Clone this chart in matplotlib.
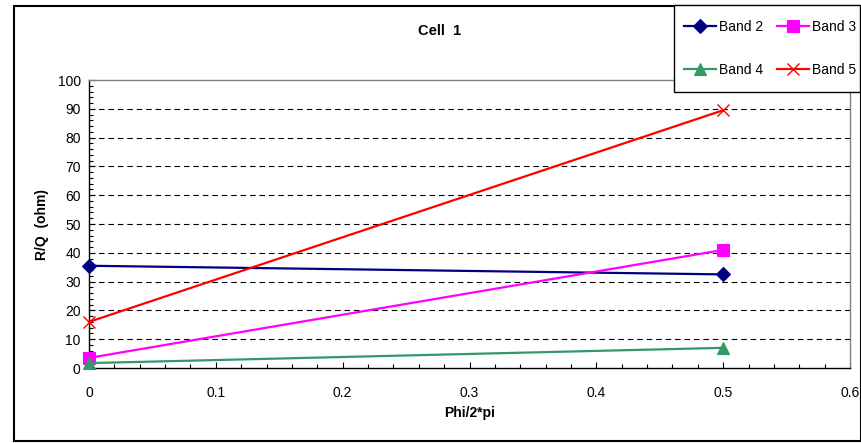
import matplotlib
matplotlib.use("Agg")
import matplotlib.pyplot as plt
from matplotlib.patches import Rectangle
from matplotlib.ticker import MultipleLocator, FuncFormatter

# Phase advance (Phi/2*pi) and R/Q values per band
phase = [0.0, 0.5]
band2 = [35.5, 32.5]
band3 = [3.5, 41.0]
band4 = [1.7, 7.0]
band5 = [16.0, 89.5]

series = [
    ("Band 2", band2, "#000080", "D", 7, "#000080"),
    ("Band 3", band3, "#FF00FF", "s", 8, "#FF00FF"),
    ("Band 4", band4, "#339966", "^", 8.5, "#339966"),
    ("Band 5", band5, "#FF0000", "x", 9, "#FF0000"),
]

plt.rcParams["font.family"] = ["Liberation Sans", "DejaVu Sans"]

fig = plt.figure(figsize=(8.62, 4.43), dpi=100)
W, H = 862, 443
ax = fig.add_axes([89 / W, 1 - 368 / H, (850 - 89) / W, (368 - 80) / H])

handles = {}
for name, vals, color, marker, ms, mcol in series:
    h, = ax.plot(phase, vals, color=color, lw=1.6, marker=marker, ms=ms,
                 markerfacecolor=mcol, markeredgecolor=mcol,
                 markeredgewidth=1.0 if marker == "x" else 0.8,
                 label=name, clip_on=False, zorder=3)
    handles[name] = h

ax.set_xlim(0, 0.6)
ax.set_ylim(0, 100)
ax.xaxis.set_major_locator(MultipleLocator(0.1))
ax.xaxis.set_minor_locator(MultipleLocator(0.02))
ax.yaxis.set_major_locator(MultipleLocator(10))
ax.yaxis.set_minor_locator(MultipleLocator(2))
ax.xaxis.set_major_formatter(FuncFormatter(lambda v, p: "0" if abs(v) < 1e-9 else f"{v:.1f}"))

ax.tick_params(axis="both", which="major", direction="in", length=4, width=0.8,
               labelsize=10, colors="black")
ax.tick_params(axis="both", which="minor", direction="in", length=3, width=0.8)
ax.tick_params(axis="x", pad=13)
ax.tick_params(axis="y", pad=6)

for y in range(10, 100, 10):
    ax.axhline(y, color="black", lw=0.8, dashes=(5, 3.5), zorder=1)

for side in ["top", "right"]:
    ax.spines[side].set_color("#808080")
    ax.spines[side].set_linewidth(1.0)
for side in ["left", "bottom"]:
    ax.spines[side].set_color("black")
    ax.spines[side].set_linewidth(1.0)

ax.set_xlabel("Phi/2*pi", fontsize=10, fontweight="bold", labelpad=4)
ax.set_ylabel("R/Q  (ohm)", fontsize=10, fontweight="bold", labelpad=6)

fig.text(440 / W, 1 - 31 / H, "Cell  1", ha="center", va="center",
         fontsize=10.5, fontweight="bold")

# Legend box drawn as its own white panel over the top-right corner of the plot
lx0, lx1, ly0, ly1 = 674, 860, 5, 92
fig.patches.append(Rectangle((lx0 / W, 1 - ly1 / H), (lx1 - lx0) / W, (ly1 - ly0) / H,
                             transform=fig.transFigure, facecolor="white",
                             edgecolor="black", lw=1.0, zorder=5))

order = ["Band 2", "Band 4", "Band 3", "Band 5"]
leg = fig.legend(handles=[handles[n] for n in order], ncol=2, loc="center",
                 bbox_to_anchor=((lx0 + 96) / W, 1 - (ly0 + ly1) / 2 / H),
                 bbox_transform=fig.transFigure,
                 fontsize=10, frameon=False, borderaxespad=0, borderpad=0,
                 handlelength=2.3, handletextpad=0.22,
                 columnspacing=1.0, labelspacing=2.1)
leg.set_zorder(10)

fig.patches.append(Rectangle((14 / W, 2 / H), (861 - 14) / W, (437 - 2) / H,
                             transform=fig.transFigure, fill=False,
                             edgecolor="black", lw=1.5, zorder=0))

fig.savefig("out.png", dpi=100)
